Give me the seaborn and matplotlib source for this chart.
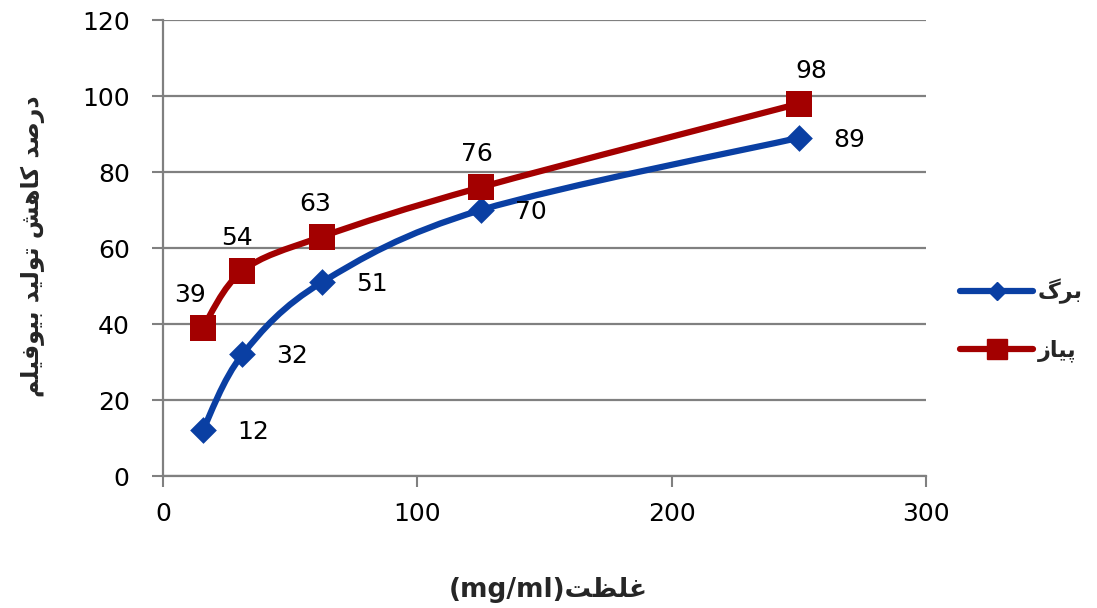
import numpy as np
import pandas as pd
import matplotlib
matplotlib.use("Agg")
import matplotlib.pyplot as plt
import seaborn as sns
from matplotlib.path import Path
from matplotlib.patches import PathPatch
from matplotlib.lines import Line2D

# ---- data ----
concentration = [15.625, 31.25, 62.5, 125, 250]
leaf_values = [12, 32, 51, 70, 89]
onion_values = [39, 54, 63, 76, 98]
series_names = ["برگ", "پیاز"]
x_ticks = [0, 100, 200, 300]
y_ticks = [0, 20, 40, 60, 80, 100, 120]
y_title = "درصد کاهش تولید بیوفیلم"
x_title_fa = "غلظت"
x_title_unit = "(mg/ml)"

# ---- minimal Persian shaping (contextual forms + visual order) ----
FORMS = {
    "ا": ("\uFE8D", "\uFE8E", None, None),
    "ب": ("\uFE8F", "\uFE90", "\uFE91", "\uFE92"),
    "پ": ("\uFB56", "\uFB57", "\uFB58", "\uFB59"),
    "ت": ("\uFE95", "\uFE96", "\uFE97", "\uFE98"),
    "د": ("\uFEA9", "\uFEAA", None, None),
    "ر": ("\uFEAD", "\uFEAE", None, None),
    "ز": ("\uFEAF", "\uFEB0", None, None),
    "ش": ("\uFEB5", "\uFEB6", "\uFEB7", "\uFEB8"),
    "ص": ("\uFEB9", "\uFEBA", "\uFEBB", "\uFEBC"),
    "ظ": ("\uFEC5", "\uFEC6", "\uFEC7", "\uFEC8"),
    "غ": ("\uFECD", "\uFECE", "\uFECF", "\uFED0"),
    "ف": ("\uFED1", "\uFED2", "\uFED3", "\uFED4"),
    "ک": ("\uFB8E", "\uFB8F", "\uFB90", "\uFB91"),
    "گ": ("\uFB92", "\uFB93", "\uFB94", "\uFB95"),
    "ل": ("\uFEDD", "\uFEDE", "\uFEDF", "\uFEE0"),
    "م": ("\uFEE1", "\uFEE2", "\uFEE3", "\uFEE4"),
    "ه": ("\uFEE9", "\uFEEA", "\uFEEB", "\uFEEC"),
    "و": ("\uFEED", "\uFEEE", None, None),
    "ی": ("\uFBFC", "\uFBFD", "\uFBFE", "\uFBFF"),
}


def shape_fa(text):
    out = []
    for i, ch in enumerate(text):
        if ch not in FORMS:
            out.append(ch)
            continue
        prev = text[i - 1] if i > 0 else ""
        nxt = text[i + 1] if i + 1 < len(text) else ""
        join_prev = prev in FORMS and FORMS[prev][2] is not None
        join_next = nxt in FORMS and FORMS[ch][2] is not None
        iso, fin, ini, med = FORMS[ch]
        if join_prev and join_next:
            out.append(med)
        elif join_prev:
            out.append(fin)
        elif join_next:
            out.append(ini)
        else:
            out.append(iso)
    return "".join(out)[::-1]


# ---- style ----
sns.set_theme(style="white")
plt.rcParams["font.family"] = ["DejaVu Sans"]
fa_font = ["DejaVu Sans"]

BLUE = "#0A3FA3"
RED = "#A30000"
GRID = "#808080"

df = pd.DataFrame({
    "conc": concentration * 2,
    "value": leaf_values + onion_values,
    "series": [series_names[0]] * len(leaf_values) + [series_names[1]] * len(onion_values),
})

fig = plt.figure(figsize=(10.97, 6.08), dpi=100)
ax = fig.add_axes([0.1486, 0.2171, 0.8441 - 0.1486, 0.967 - 0.2171])


def smooth_path(xs, ys):
    # Catmull-Rom style cubic Bezier through the points
    pts = np.column_stack([xs, ys]).astype(float)
    n = len(pts)
    verts = [pts[0]]
    codes = [Path.MOVETO]
    for i in range(n - 1):
        p0 = pts[i - 1] if i > 0 else pts[i]
        p1, p2 = pts[i], pts[i + 1]
        p3 = pts[i + 2] if i + 2 < n else pts[i + 1]
        c1 = p1 + (p2 - p0) / 6.0
        c2 = p2 - (p3 - p1) / 6.0
        verts += [c1, c2, p2]
        codes += [Path.CURVE4] * 3
    return Path(verts, codes)


# curves (in data coordinates, under the markers)
for name, color in zip(series_names, [BLUE, RED]):
    sub = df[df["series"] == name]
    ax.add_patch(PathPatch(smooth_path(sub["conc"], sub["value"]), fc="none",
                           ec=color, lw=4.5, capstyle="round", zorder=3))

# markers
sns.scatterplot(data=df[df["series"] == series_names[0]], x="conc", y="value",
                marker="D", s=185, color=BLUE, edgecolor=BLUE, linewidth=0,
                ax=ax, zorder=4, legend=False)
sns.scatterplot(data=df[df["series"] == series_names[1]], x="conc", y="value",
                marker="s", s=360, color=RED, edgecolor=RED, linewidth=0,
                ax=ax, zorder=4, legend=False)

# value labels: leaf to the right of each point, onion above it
for x, y in zip(concentration, leaf_values):
    ax.annotate(f"{y}", (x, y), xytext=(50, -2), textcoords="offset pixels",
                ha="center", va="center", fontsize=18, color="black", zorder=5)
onion_label_dx = [-13, -5, -7, -4, 12]
for x, y, dx in zip(concentration, onion_values, onion_label_dx):
    ax.annotate(f"{y}", (x, y), xytext=(dx, 33), textcoords="offset pixels",
                ha="center", va="center", fontsize=18, color="black", zorder=5)

# axes
ax.set_xlim(0, 300)
ax.set_ylim(0, 120)
ax.set_xticks(x_ticks)
ax.set_yticks(y_ticks)
ax.tick_params(axis="both", labelsize=18, colors=GRID, labelcolor="black",
               width=1.5, length=8, direction="out", left=True, bottom=True)
ax.tick_params(axis="y", pad=16)
ax.tick_params(axis="x", pad=11)
ax.yaxis.grid(True, color=GRID, lw=1.6)
ax.xaxis.grid(False)
for side in ["top", "right"]:
    ax.spines[side].set_visible(False)
for side in ["left", "bottom"]:
    ax.spines[side].set_color(GRID)
    ax.spines[side].set_linewidth(1.6)
ax.set_xlabel("")
ax.set_ylabel("")

fig.text(0.03, 0.595, shape_fa(y_title), rotation=90, ha="center", va="center",
         fontsize=17, fontweight="bold", family=fa_font)
fig.text(0.50, 0.03, x_title_unit + shape_fa(x_title_fa), ha="center",
         va="center", fontsize=19, fontweight="bold", family=fa_font)

# legend
handles = [
    Line2D([0], [0], color=BLUE, lw=4.5, marker="D", markersize=9),
    Line2D([0], [0], color=RED, lw=4.5, marker="s", markersize=15),
]
leg = fig.legend(handles, [shape_fa(n) for n in series_names],
                 loc="center left", bbox_to_anchor=(0.857, 0.473), frameon=False,
                 handlelength=3.3, labelspacing=1.6, handletextpad=0.2,
                 prop={"family": fa_font, "size": 16, "weight": "bold"})

fig.savefig("out.png", dpi=100)
